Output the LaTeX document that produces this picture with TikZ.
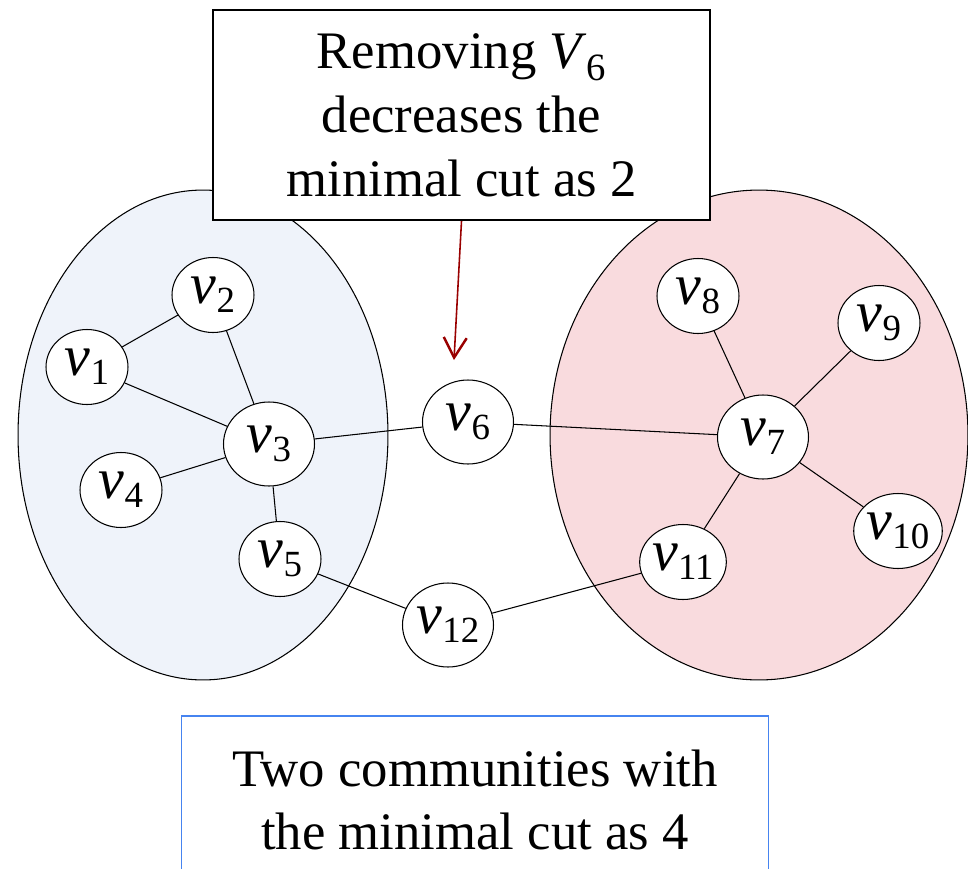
\documentclass[tikz,border=0pt]{standalone}
\usepackage{fontspec}
\setmainfont{Liberation Serif}
\usetikzlibrary{shapes.geometric,arrows.meta}
\definecolor{leftfill}{RGB}{239,243,250}
\definecolor{rightfill}{RGB}{249,219,222}
\definecolor{arrowred}{RGB}{153,0,0}
\definecolor{boxblue}{RGB}{70,132,240}
% vertex label: italic v with a lowered index
\newcommand{\vx}[1]{\fontsize{33}{33}\selectfont\textit{v}\raisebox{-5pt}{\fontsize{21}{21}\selectfont #1}}

\begin{document}
\begin{tikzpicture}[x=0.02cm,y=-0.02cm,
  vnode/.style={ellipse,draw,fill=white,line width=0.6pt,inner sep=0pt,
    minimum width=1.64cm,minimum height=1.5cm},
  hub/.style={vnode,minimum width=1.82cm,minimum height=1.68cm},
  edge/.style={line width=0.6pt}]
\clip (0,0) rectangle (968,869);
% the two communities
\draw[line width=0.6pt,fill=leftfill] (203,435) ellipse [x radius=3.7cm,y radius=4.9cm];
\draw[line width=0.6pt,fill=rightfill] (759,435) ellipse [x radius=4.18cm,y radius=4.9cm];
% vertices
\node[vnode] (v1) at (87,367) {\vx{1}};
\node[vnode] (v2) at (213,295) {\vx{2}};
\node[hub] (v3) at (269,444) {\vx{3}};
\node[vnode] (v4) at (121,490) {\vx{4}};
\node[vnode] (v5) at (280,559) {\vx{5}};
\node[hub] (v6) at (468,422) {\vx{6}};
\node[hub] (v7) at (763,437) {\vx{7}};
\node[vnode] (v8) at (698,296) {\vx{8}};
\node[vnode] (v9) at (879,323) {\vx{9}};
\node[vnode] (v10) at (898,531) {\vx{10}};
\node[vnode] (v11) at (683,562) {\vx{11}};
\node[hub] (v12) at (448,625) {\vx{12}};
% edges
\foreach \a/\b in {v1/v2,v1/v3,v2/v3,v4/v3,v3/v5,v3/v6,v6/v7,v5/v12,
  v12/v11,v7/v8,v7/v9,v7/v10,v7/v11}
  \draw[edge] (\a) -- (\b);
% notes
\node[draw,fill=white,line width=1.3pt,minimum width=9.94cm,minimum height=4.2cm,
  align=center,font=\fontsize{30}{36.4}\selectfont] (note) at (461.5,115)
  {Removing \textit{V}\raisebox{-7pt}{\fontsize{22}{22}\selectfont 6}\\decreases the\\minimal cut as 2};
\coordinate (tip) at (454,360);
\draw[arrowred,line width=0.9pt,-{Straight Barb[length=0.4cm,width=0.46cm,line width=1.4pt]}]
  (note.south) -- (tip);
\node[draw=boxblue,line width=1pt,minimum width=11.74cm,minimum height=3.36cm,
  align=center,font=\fontsize{30}{36}\selectfont] (caption) at (475,800)
  {Two communities with\\the minimal cut as 4};
\end{tikzpicture}
\end{document}
